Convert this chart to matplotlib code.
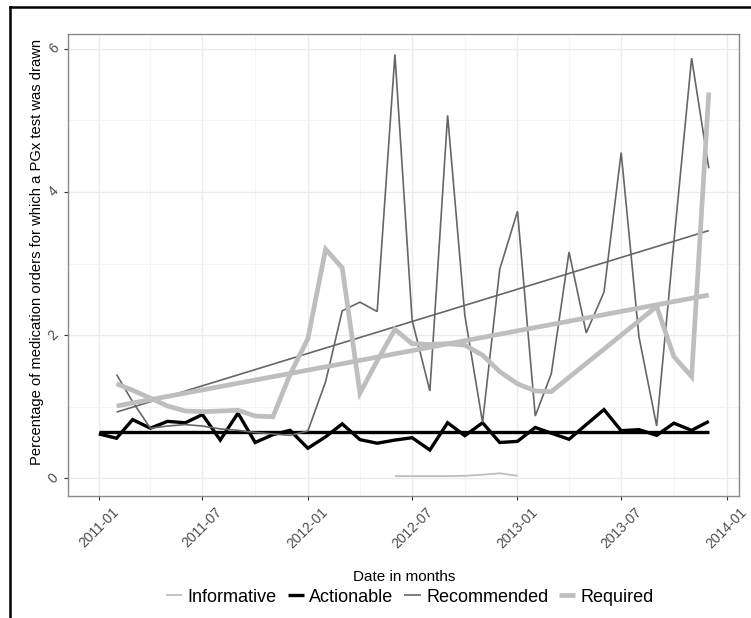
import matplotlib
matplotlib.use("Agg")
import matplotlib.pyplot as plt
import matplotlib.dates as mdates
import numpy as np
import pandas as pd
from matplotlib.lines import Line2D

plt.rcParams['font.family'] = ['Liberation Sans', 'DejaVu Sans']

# ---------------- data ----------------
series_names = ["Informative", "Actionable", "Recommended", "Required"]

informative_months = ["2012-06", "2012-07", "2012-08", "2012-09", "2012-10", "2012-11", "2012-12", "2013-01"]
informative = [0.03, 0.03, 0.03, 0.03, 0.035, 0.05, 0.07, 0.035]

actionable_months = [f"{y}-{m:02d}" for y in (2011, 2012, 2013) for m in range(1, 13)]
actionable = [0.62, 0.56, 0.82, 0.70, 0.795, 0.776, 0.89, 0.534, 0.91, 0.50, 0.61, 0.67,
              0.42, 0.58, 0.76, 0.54, 0.49, 0.534, 0.567, 0.395, 0.776, 0.595, 0.776, 0.50,
              0.516, 0.71, 0.63, 0.545, 0.75, 0.96, 0.665, 0.68, 0.60, 0.77, 0.67, 0.795]

recommended_months = ["2011-02", "2011-03", "2011-04", "2011-05", "2011-06", "2011-07", "2011-08",
                      "2011-09", "2011-10", "2011-11", "2011-12",
                      "2012-01", "2012-02", "2012-03", "2012-04", "2012-05", "2012-06", "2012-07",
                      "2012-08", "2012-09", "2012-10", "2012-11", "2012-12",
                      "2013-01", "2013-02", "2013-03", "2013-04", "2013-05", "2013-06", "2013-07",
                      "2013-08", "2013-09", "2013-10", "2013-11", "2013-12"]
recommended = [1.45, 1.07, 0.70, 0.73, 0.75, 0.73, 0.69, 0.67, 0.64, 0.62, 0.60,
               0.66, 1.35, 2.34, 2.46, 2.33, 5.92, 2.21, 1.22, 5.07, 2.28, 0.78, 2.92,
               3.73, 0.87, 1.46, 3.16, 2.03, 2.60, 4.55, 1.98, 0.73, 3.30, 5.87, 4.33]

required_months = ["2011-02", "2011-03", "2011-04", "2011-05", "2011-06", "2011-07", "2011-08",
                   "2011-09", "2011-10", "2011-11", "2011-12",
                   "2012-01", "2012-02", "2012-03", "2012-04", "2012-05", "2012-06", "2012-07",
                   "2012-08", "2012-09", "2012-10", "2012-11", "2012-12",
                   "2013-01", "2013-02", "2013-03", "2013-09", "2013-10", "2013-11", "2013-12"]
required = [1.32, 1.23, 1.12, 1.01, 0.94, 0.93, 0.94, 0.95, 0.87, 0.86, 1.45,
            1.95, 3.20, 2.94, 1.19, 1.64, 2.08, 1.88, 1.87, 1.88, 1.86, 1.72, 1.49,
            1.32, 1.22, 1.21, 2.40, 1.70, 1.42, 5.39]

# linear-trend (lm) fitted values: [start month, end month], [start, end]
trend_months = {
    "Actionable": ["2011-01", "2013-12"],
    "Recommended": ["2011-02", "2013-12"],
    "Required": ["2011-02", "2013-12"],
}
trend_values = {
    "Actionable": [0.65, 0.65],
    "Recommended": [0.925, 3.46],
    "Required": [1.01, 2.56],
}

x_tick_labels = ["2011-01", "2011-07", "2012-01", "2012-07", "2013-01", "2013-07", "2014-01"]
y_ticks = [0, 2, 4, 6]

# ---------------- styles ----------------
styles = {
    "Informative": dict(color="#bdbdbd", lw=1.3),
    "Actionable": dict(color="#000000", lw=2.4),
    "Recommended": dict(color="#666666", lw=1.2),
    "Required": dict(color="#bebebe", lw=3.4),
}
data = {
    "Informative": (informative_months, informative),
    "Actionable": (actionable_months, actionable),
    "Recommended": (recommended_months, recommended),
    "Required": (required_months, required),
}

W, H = 751, 618
fig = plt.figure(figsize=(W / 100, H / 100), dpi=100)
ax = fig.add_axes([68.3 / W, 1 - 495.7 / H, (739.3 - 68.3) / W, (495.7 - 33.7) / H])

for name in series_names:
    months, vals = data[name]
    ax.plot(pd.to_datetime(months), vals, solid_joinstyle="miter", solid_capstyle="butt",
            zorder=3, **styles[name])
    if name in trend_months:
        ax.plot(pd.to_datetime(trend_months[name]), trend_values[name], solid_capstyle="butt",
                zorder=3, **styles[name])

# limits (ggplot-like 5% expansion)
all_dates = pd.to_datetime(actionable_months)
x0, x1 = mdates.date2num(all_dates.min()), mdates.date2num(all_dates.max())
pad = (x1 - x0) * 0.05
ax.set_xlim(x0 - pad, x1 + pad)
ax.set_ylim(-0.243, 6.21)

ax.set_xticks(mdates.date2num(pd.to_datetime(x_tick_labels)))
ax.set_xticklabels(x_tick_labels)
minor = pd.to_datetime(["2011-04", "2011-10", "2012-04", "2012-10", "2013-04", "2013-10"])
ax.set_xticks(mdates.date2num(minor), minor=True)
ax.set_yticks(y_ticks)
ax.set_yticklabels([str(v) for v in y_ticks])
ax.set_yticks([1, 3, 5], minor=True)

ax.grid(True, which="major", color="#ebebeb", lw=1.0, zorder=0)
ax.grid(True, which="minor", color="#f2f2f2", lw=0.6, zorder=0)
ax.set_axisbelow(True)

for s in ax.spines.values():
    s.set_color("#8a8a8a")
    s.set_linewidth(1.0)

ax.tick_params(axis="both", which="major", length=3, width=0.8, color="#333333",
               labelcolor="#4d4d4d", labelsize=10)
ax.tick_params(axis="y", which="major", pad=2)
ax.tick_params(axis="both", which="minor", length=0)
for lab in ax.get_xticklabels():
    lab.set_rotation(45)
    lab.set_ha("center")
    lab.set_va("top")
for lab in ax.get_yticklabels():
    lab.set_rotation(45)
    lab.set_ha("right")
    lab.set_va("center")

fig.text(404 / W, 1 - 577 / H, "Date in months", fontsize=11, color="#000000",
         ha="center", va="center")
fig.text(37 / W, 1 - 252 / H, "Percentage of medication orders for which a PGx test was drawn",
         fontsize=10.6, color="#000000", rotation=90, ha="center", va="center")

handles = [Line2D([0], [0], solid_capstyle="butt", **styles[n]) for n in series_names]
fig.legend(handles, series_names, loc="center", bbox_to_anchor=(410 / W, 1 - 597 / H),
           ncol=4, frameon=False, fontsize=13, handlelength=0.9, handletextpad=0.3,
           columnspacing=0.6)

# outer frame lines (top and left)
fig.add_artist(Line2D([10 / W, 1.0], [1 - 7 / H, 1 - 7 / H], color="black", lw=1.8,
                      transform=fig.transFigure))
fig.add_artist(Line2D([10 / W, 10 / W], [0, 1 - 7 / H], color="black", lw=1.8,
                      transform=fig.transFigure))

fig.savefig("out.png", dpi=100)
